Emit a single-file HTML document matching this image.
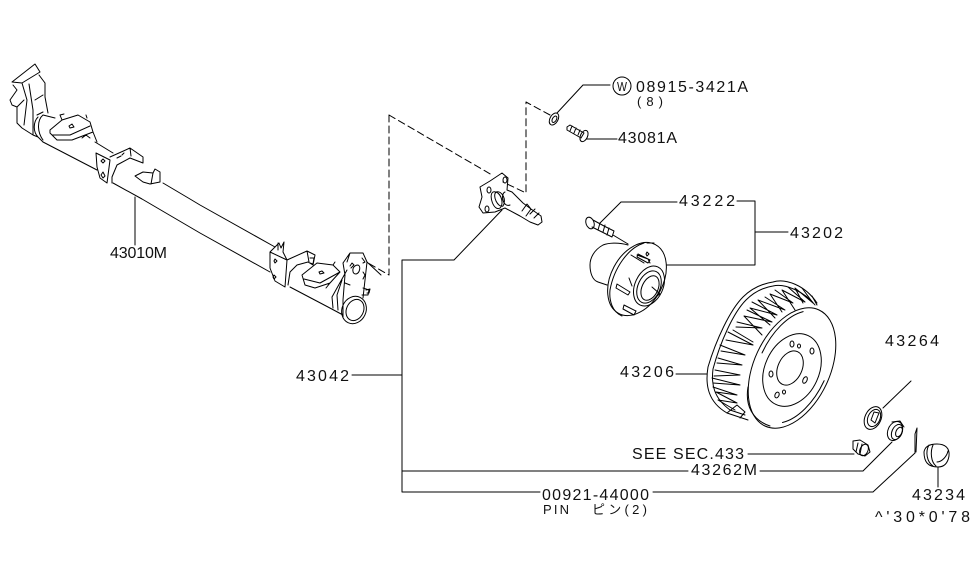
<!DOCTYPE html>
<html><head><meta charset="utf-8"><style>
html,body{margin:0;padding:0;background:#fff}
svg{display:block}
.l{fill:none;stroke:#000;stroke-width:1;stroke-linejoin:round;stroke-linecap:round}
.t{font-family:"Liberation Sans","Noto Sans CJK JP",sans-serif;font-size:16px;fill:#111}
.s{font-size:13px}
</style></head><body>
<svg width="975" height="566" viewBox="0 0 975 566" xmlns="http://www.w3.org/2000/svg">
<g class="l">
<!-- axle tube -->
<path d="M43 142L97 170M113 183L142 199L200 233L270 272M95 142L113 153M163 183L190 199L200 205L275 247"/>
<path d="M135 197V245"/>
<!-- left end -->
<path d="M12 82L35 64L40 72L22 83L12 82M39 75L45 83L45 97L48 113M13 85L17 90L10 100L12 105L17 107L17 123L22 128L33 135L38 137L43 142M22 83L27 100L24 125M29 84L33 110L33 135M17 107L24 100M35 100L43 95M37 115L43 112M38 117C33 122 33 132 38 137M43 115C37 120 37 132 43 140M43 115L55 118"/>
<path d="M50 130L62 120L78 115L90 122L93 132L72 140L57 140L50 133ZM52 135L70 135L90 126M62 120L60 115L64 114M87 118L86 115M93 132L97 142M82 138L86 135L90 138"/>
<path d="M69 126L72 124L74 127L70 128Z"/>
<path d="M96 153L110 160L107 183L100 178L97 167ZM110 157L130 148L143 157L143 163L130 158L117 165L112 177L112 183M101 161L103 159L105 161L103 163ZM101 175L103 172L105 176L103 178ZM130 148L131 156M117 158L121 156M122 155L124 153"/>
<path d="M135 176L143 172L153 173L155 169L160 172L160 182L150 184L143 182ZM153 173L151 184"/>
<!-- right end -->
<path d="M270 252L287 260L285 287L275 281L270 268ZM287 260L307 251L315 255L313 265L308 262L297 265L290 272L288 285M307 251L309 262M310 258L314 258L313 264L310 263M275 259L277 261L275 263L274 261ZM274 275L276 277L274 279L273 277ZM270 252L279 243L281 248L284 242L283 252L287 260M278 243L278 250"/>
<path d="M302 275L317 263L333 265L340 272L330 283L315 288L305 285ZM304 279L320 283L340 272M319 272L322 271L324 273L320 274ZM333 265L335 262M330 283L326 288"/>
<path d="M290 287L328 307L343 315M343 263L350 253L363 253L367 262L365 280L363 298M343 263L345 275L343 300L343 317M347 270L332 297L333 308M342 280L337 295L338 310M350 253L347 262M355 266C352 268 352 274 356 274C360 273 361 266 358 265C357 265 356 265 355 266ZM350 266L352 263L354 265L351 268M362 258L365 262L363 263M363 272L365 275L363 279M367 262L381 275M366 290L370 289L369 293L367 293M350 285L345 283"/>
<ellipse cx="354" cy="310" rx="12" ry="14" transform="rotate(25 354 310)"/>
<ellipse cx="355" cy="310" rx="8.5" ry="11" transform="rotate(25 355 310)"/>
<path d="M363 288L369 290L368 295L362 295"/>
<!-- dashed -->
<path stroke-dasharray="7 4" d="M389 115V275L368 263M389 115L492 175M550 115L526 102V193L503 182"/>
<!-- stub axle -->
<path d="M480 187L490 181L502 173L508 178L507 190L512 192L523 203L531 209L541 216L542 222L538 225L530 222L520 216L505 208L495 212L483 213L479 207L482 197ZM493 192C488 195 494 212 500 208C505 203 500 190 493 192ZM496 192C492 196 498 208 503 206C507 200 502 190 496 192ZM505 192C500 194 503 208 510 205M522 211L527 204L531 209L526 216M530 214L535 209M534 218L539 213"/>
<ellipse cx="489" cy="190" rx="2" ry="3"/><ellipse cx="487" cy="209" rx="2" ry="3"/><ellipse cx="505" cy="180" rx="2" ry="3"/>
<!-- washer -->
<ellipse cx="554" cy="119" rx="4" ry="6.5" transform="rotate(30 554 119)"/>
<ellipse cx="554.5" cy="119" rx="2" ry="3.5" transform="rotate(30 554 119)"/>
<!-- bolt 43081A -->
<path d="M567 127L570 125L584 133L581 138L567 130ZM572 126L570 131M576 128L574 133M580 130L578 135"/>
<ellipse cx="584" cy="136" rx="3.5" ry="6" transform="rotate(25 584 136)"/>
<!-- leaders -->
<path d="M610 85H583L557 113M587 139H617M402 375H352M402 260H454L502 210M402 260V492H540M402 471H688M760 471H863L892 442M653 492H873L915 453M748 454H854M911 381L883 408M938 467V487M677 202H621L600 223M737 201H755V265H667M755 232H788M676 374H707"/>
<circle cx="622" cy="86" r="9"/>
<!-- bolt 43222 -->
<path d="M593 220L604 226L614 231L612 237L602 232L592 227M600 223L598 230M605 225L603 232M609 228L607 235M613 235L628 244"/>
<ellipse cx="590" cy="223" rx="4" ry="6" transform="rotate(-20 590 223)"/>
<!-- hub -->
<path d="M628 245C618 242 608 243 603 245C594 250 590 258 590 265C590 272 592 280 598 282L607 285"/>
<ellipse cx="637" cy="279" rx="26" ry="39" transform="rotate(28 637 279)"/>
<path d="M644 243C628 248 614 268 610 290C609 300 612 312 622 316"/>
<ellipse cx="649" cy="287" rx="11" ry="17" transform="rotate(25 649 287)"/>
<ellipse cx="649" cy="286" rx="14" ry="21" transform="rotate(25 649 286)"/>
<ellipse cx="650" cy="288" rx="8" ry="13" transform="rotate(25 650 288)"/>
<path d="M637 255L648 259L650 263M631 255L644 263M629 278L632 286M647 252L649 254L647 256L646 254ZM617 284L630 292L628 295L616 288ZM624 305L636 311L634 315L623 309ZM638 254L650 260L648 263L637 257ZM652 287L660 294L657 296M647 243L654 243"/>
<!-- drum -->
<ellipse cx="792" cy="368" rx="38" ry="64" transform="rotate(25 792 368)"/>
<ellipse cx="792" cy="370" rx="27" ry="38" transform="rotate(25 792 370)"/>
<ellipse cx="790" cy="368" rx="12" ry="18" transform="rotate(25 790 368)"/>
<ellipse cx="793" cy="367" rx="34" ry="60" transform="rotate(25 793 367)" stroke-dasharray="60 90"/>
<path d="M817 303C805 285 785 278 773 282C760 284 750 290 743 297C730 310 716 340 708 367C705 385 708 402 727 413L748 420M815 305C805 292 785 283 773 286C760 288 752 294 746 300C733 313 720 343 713 369C711 385 714 398 730 410"/>
<path d="M748 387C745 405 752 420 770 426"/>
<path d="M713 387L737 395L716 392L737 403L718 400L735 410M712 378L740 385L713 383M715 370L740 375L714 376M718 358L742 365L717 363M720 345L745 355L721 351M728 332L753 345L726 340M733 330L753 342M737 322L762 328L736 327M747 310L772 322L744 316L762 335M752 302L777 315L750 308L770 325M765 297L785 310L758 300L775 318M775 290L793 303L770 294L782 312M788 287L805 302L782 290L795 310M802 288L813 303L795 288L803 303M812 296L817 305"/>
<path d="M727 413L737 405L745 412L740 418M730 410L745 415"/>
<ellipse cx="792" cy="344" rx="2" ry="3"/><ellipse cx="799" cy="346" rx="1.5" ry="2"/><ellipse cx="812" cy="351" rx="2" ry="3"/><ellipse cx="771" cy="374" rx="2" ry="3"/><ellipse cx="805" cy="380" rx="2" ry="3.5" transform="rotate(25 805 380)"/><ellipse cx="777" cy="395" rx="2" ry="3" transform="rotate(25 777 395)"/><ellipse cx="784" cy="392" rx="1.5" ry="2"/>
<!-- nut 43264 -->
<ellipse cx="873" cy="418" rx="8" ry="12" transform="rotate(25 873 418)"/>
<ellipse cx="874" cy="418" rx="6" ry="9" transform="rotate(25 874 418)"/>
<path d="M871 420L874 412L879 413L875 423Z"/>
<!-- washer/cap nut 43262M -->
<ellipse cx="895" cy="431" rx="7" ry="10" transform="rotate(25 895 431)"/>
<ellipse cx="897" cy="432" rx="5" ry="8" transform="rotate(25 897 432)"/>
<ellipse cx="899" cy="432" rx="3" ry="5" transform="rotate(25 899 432)"/>
<path d="M892 422L900 421L904 427"/>
<!-- small nut -->
<path d="M853 441L860 440L868 445L870 452L865 456L858 454L853 449Z"/>
<ellipse cx="864" cy="450" rx="4" ry="6" transform="rotate(25 864 450)"/>
<path d="M858 443L856 452M862 444L860 454"/>
<!-- pin -->
<path d="M915 453V434L917 428L916 452"/>
<!-- cap -->
<path d="M938 467C928 467 924 462 924 452C925 446 930 444 937 444C945 444 950 448 949 456C948 462 945 467 938 467ZM929 445C925 452 927 462 933 466M933 445C930 452 931 462 936 466M937 462C942 462 947 456 948 451"/>
</g>
<g class="t">
<text x="110" y="258" textLength="57">43010M</text>
<text x="636" y="92" textLength="112">08915-3421A</text>
<text x="637" y="106" class="s" textLength="26">(8)</text>
<text x="618" y="143" textLength="59">43081A</text>
<text x="679" y="206" textLength="56">43222</text>
<text x="790" y="238" textLength="53">43202</text>
<text x="620" y="377" textLength="54">43206</text>
<text x="296" y="381" textLength="53">43042</text>
<text x="885" y="346" textLength="54">43264</text>
<text x="632" y="459" textLength="112">SEE SEC.433</text>
<text x="691" y="475" textLength="66">43262M</text>
<text x="542" y="500" textLength="107">00921-44000</text>
<text x="543" y="514" class="s" textLength="26">PIN</text>
<text x="592" y="514" class="s" textLength="55">ピン(2)</text>
<text x="912" y="500" textLength="53">43234</text>
<text x="875" y="522" textLength="95">^'30*0'78</text>
<text x="617" y="91" class="s" textLength="10" lengthAdjust="spacingAndGlyphs">W</text>
</g>
</svg>
</body></html>
